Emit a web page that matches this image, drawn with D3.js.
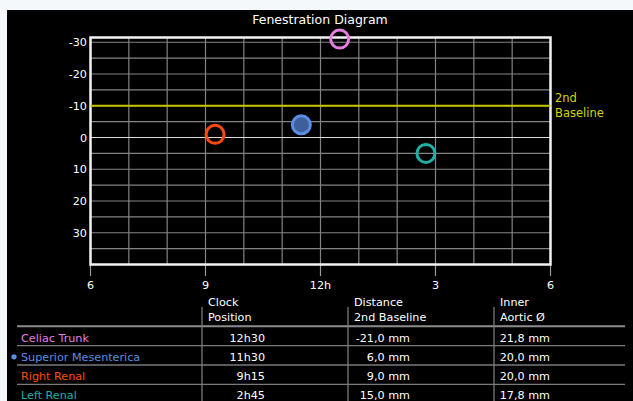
<!DOCTYPE html>
<html><head><meta charset="utf-8">
<script src="https://cdn.jsdelivr.net/npm/d3@7"></script>
<style>
html,body{margin:0;padding:0;background:#f4f8fa;}
svg{display:block;}
</style></head>
<body>
<svg id="chart" width="633" height="401"></svg>
<script>
// ---- data ----
const vessels = ["Celiac Trunk", "Superior Mesenterica", "Right Renal", "Left Renal"];
const clockHours = [12.5, 11.5, 9.25, 14.75];          // 12h30, 11h30, 9h15, 2h45
const clockLabels = ["12h30", "11h30", "9h15", "2h45"];
const distances = [-21.0, 6.0, 9.0, 15.0];              // mm from 2nd baseline
const aorticDiam = [21.8, 20.0, 20.0, 17.8];            // mm
const vesselColors = ["#e47ee0", "#5a8de4", "#ff4a0a", "#1fb0a4"];
const selected = [false, true, false, false];
const baseline2 = -10;
const xTicks = [6, 9, 12, 15, 18];
const xTickLabels = ["6", "9", "12h", "3", "6"];
const yTicks = [-30, -20, -10, 0, 10, 20, 30];
const headers = [["Clock", "Position"], ["Distance", "2nd Baseline"], ["Inner", "Aortic Ø"]];

const font = "'DejaVu Sans', sans-serif";
const fs = "11.2px";
const svg = d3.select("#chart");
svg.append("rect").attr("x", 7).attr("y", 10).attr("width", 626).attr("height", 391).attr("fill", "#000");

const x = d3.scaleLinear().domain([6, 18]).range([90.5, 550.5]);
const y = d3.scaleLinear().domain([-31.5, 40]).range([37.5, 264.5]);

// title
svg.append("text").attr("x", 320).attr("y", 23.5).attr("text-anchor", "middle")
  .attr("fill", "#fff").style("font-family", font).style("font-size", "12.5px").text("Fenestration Diagram");

const g = svg.append("g");
// grid
const vGrid = d3.range(7, 18);
g.selectAll(".vg").data(vGrid).join("line")
  .attr("x1", d => x(d)).attr("x2", d => x(d)).attr("y1", y(-31.5)).attr("y2", y(40))
  .attr("stroke", "#838383").attr("stroke-width", 1.2);
const hGrid = d3.range(-30, 40, 5);
g.selectAll(".hg").data(hGrid).join("line")
  .attr("x1", x(6)).attr("x2", x(18)).attr("y1", d => y(d)).attr("y2", d => y(d))
  .attr("stroke", d => d === 0 ? "#dcdcdc" : "#838383").attr("stroke-width", 1.2);

// x ticks
g.selectAll(".xt").data(xTicks).join("line")
  .attr("x1", d => x(d)).attr("x2", d => x(d)).attr("y1", y(40)).attr("y2", 276)
  .attr("stroke", "#9a9a9a").attr("stroke-width", 1.2);
g.selectAll(".xl").data(xTicks).join("text")
  .attr("x", d => x(d)).attr("y", 289).attr("text-anchor", "middle")
  .attr("fill", "#fff").style("font-family", font).style("font-size", fs)
  .text((d, i) => xTickLabels[i]);
// y labels
g.selectAll(".yl").data(yTicks).join("text")
  .attr("x", 87).attr("y", d => y(d) + 4).attr("text-anchor", "end")
  .attr("fill", "#fff").style("font-family", font).style("font-size", fs)
  .text(d => d);

// frame
g.append("rect").attr("x", x(6)).attr("y", y(-31.5)).attr("width", x(18) - x(6)).attr("height", y(40) - y(-31.5))
  .attr("fill", "none").attr("stroke", "#f2f2f2").attr("stroke-width", 2.5);

// 2nd baseline
g.append("line").attr("x1", x(6)).attr("x2", x(18)).attr("y1", y(baseline2)).attr("y2", y(baseline2))
  .attr("stroke", "#c4c400").attr("stroke-width", 2);
const bl = g.append("text").attr("fill", "#d2d200").style("font-family", font).style("font-size", "11.5px");
bl.append("tspan").attr("x", 555).attr("y", 102).text("2nd");
bl.append("tspan").attr("x", 555).attr("y", 117).text("Baseline");

// points
const pts = vessels.map((v, i) => ({v, h: clockHours[i], d: distances[i] + baseline2, c: vesselColors[i], s: selected[i]}));
g.selectAll(".pt").data(pts).join("circle")
  .attr("cx", d => x(d.h)).attr("cy", d => y(d.d)).attr("r", 9)
  .attr("fill", d => d.s ? "#3f5f9c" : "none").attr("stroke", d => d.c).attr("stroke-width", 3);

// table
const colX = [202, 348, 494];
const rowY = [337.5, 356.8, 376, 395.2];
const tLines = [326.3, 345.7, 365, 384.3];
g.selectAll(".tl").data(tLines).join("line")
  .attr("x1", 17).attr("x2", 625).attr("y1", d => d).attr("y2", d => d)
  .attr("stroke", (d, i) => i === 0 ? "#8c8c8c" : "#7a7a7a").attr("stroke-width", (d, i) => i === 0 ? 2 : 1.3);
g.selectAll(".cl").data(colX).join("line")
  .attr("x1", d => d).attr("x2", d => d).attr("y1", 307).attr("y2", 401)
  .attr("stroke", "#7a7a7a").attr("stroke-width", 1.3);
headers.forEach((h, i) => {
  h.forEach((t, j) => {
    g.append("text").attr("x", colX[i] + 6).attr("y", 305.5 + j * 15.6)
      .attr("fill", "#fff").style("font-family", font).style("font-size", fs).text(t);
  });
});
const fmt = v => d3.format(".1f")(v).replace(".", ",").replace("−", "-") + " mm";
vessels.forEach((v, i) => {
  g.append("text").attr("x", 21).attr("y", rowY[i] + 4).attr("fill", vesselColors[i])
    .style("font-family", font).style("font-size", fs).text(v);
  g.append("text").attr("x", 265).attr("y", rowY[i] + 4).attr("text-anchor", "end").attr("fill", "#fff")
    .style("font-family", font).style("font-size", fs).text(clockLabels[i]);
  g.append("text").attr("x", 410).attr("y", rowY[i] + 4).attr("text-anchor", "end").attr("fill", "#fff")
    .style("font-family", font).style("font-size", fs).text(fmt(distances[i]));
  g.append("text").attr("x", 550).attr("y", rowY[i] + 4).attr("text-anchor", "end").attr("fill", "#fff")
    .style("font-family", font).style("font-size", fs).text(fmt(aorticDiam[i]));
  if (selected[i]) g.append("circle").attr("cx", 14).attr("cy", rowY[i]).attr("r", 2.6).attr("fill", vesselColors[i]);
});
</script>
</body></html>
